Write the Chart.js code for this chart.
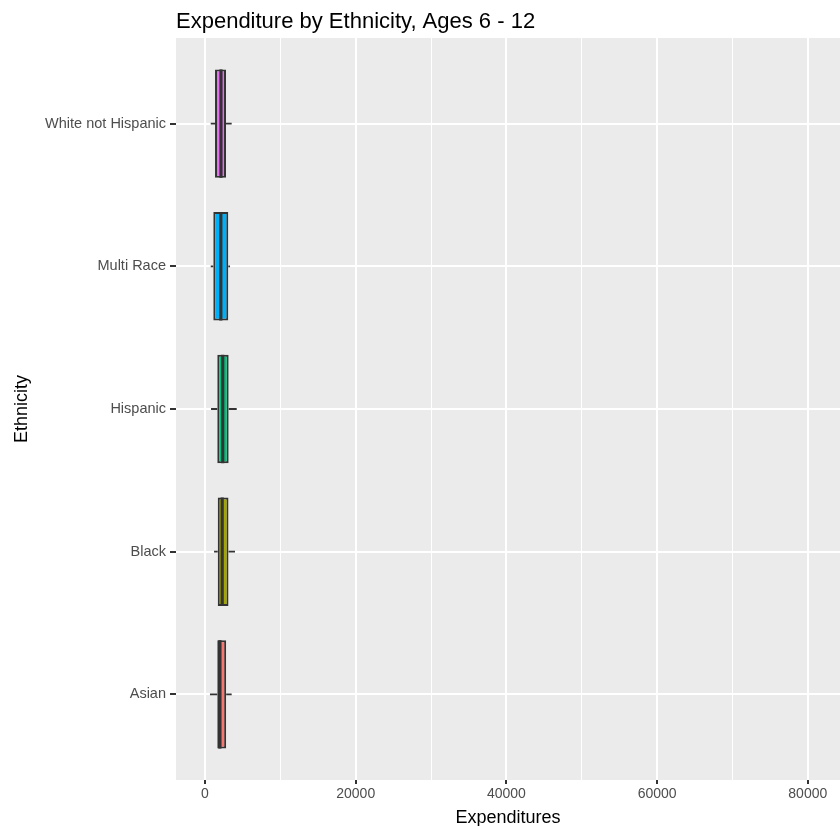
<!DOCTYPE html>
<html>
<head>
<meta charset="utf-8">
<title>Expenditure by Ethnicity, Ages 6 - 12</title>
<script src="https://cdn.jsdelivr.net/npm/chart.js@4.4.1/dist/chart.umd.min.js"></script>
<style>
  html, body { margin: 0; padding: 0; background: #fff; }
  #wrap { width: 840px; height: 826px; position: relative; }
</style>
</head>
<body>
<div id="wrap"><canvas id="boxChart" width="840" height="826"></canvas></div>
<script>
// Box plot values (bottom to top)
const categories = ['Asian', 'Black', 'Hispanic', 'Multi Race', 'White not Hispanic'];
const whiskerLow = [660, 1200, 800, 760, 760];
const lowerQuartile = [1630, 1690, 1630, 1100, 1330];
const medians = [1980, 2280, 2350, 2100, 2120];
const upperQuartile = [2810, 3120, 3140, 3090, 2790];
const whiskerHigh = [3540, 3980, 4210, 3320, 3540];
const boxColors = ['#F8766D', '#A3A500', '#00BF7D', '#00B0F6', '#E76BF3'];
const xTickValues = [0, 10000, 20000, 30000, 40000, 50000, 60000, 70000, 80000];

const lineDark = '#333333';
const fontFamily = 'Liberation Sans, Arial, sans-serif';

// grey panel behind the plot
const panelBackground = {
    id: 'panelBackground',
    beforeDraw(chart) {
        const { ctx, chartArea } = chart;
        ctx.save();
        ctx.fillStyle = '#EBEBEB';
        ctx.fillRect(chartArea.left, chartArea.top, chartArea.right - chartArea.left, chartArea.bottom - chartArea.top);
        ctx.restore();
    }
};

// whiskers and median lines on top of the floating bars
const boxExtras = {
    id: 'boxExtras',
    afterDatasetsDraw(chart) {
        const { ctx, scales } = chart;
        const meta = chart.getDatasetMeta(0);
        ctx.save();
        ctx.strokeStyle = lineDark;
        categories.forEach((cat, i) => {
            const bar = meta.data[i];
            const y = scales.y.getPixelForValue(i);
            const half = bar.height / 2;
            // whiskers
            ctx.lineWidth = 1.8;
            ctx.beginPath();
            ctx.moveTo(scales.x.getPixelForValue(whiskerLow[i]), y);
            ctx.lineTo(scales.x.getPixelForValue(lowerQuartile[i]), y);
            ctx.moveTo(scales.x.getPixelForValue(upperQuartile[i]), y);
            ctx.lineTo(scales.x.getPixelForValue(whiskerHigh[i]), y);
            ctx.stroke();
            // median
            const mx = scales.x.getPixelForValue(medians[i]);
            ctx.lineWidth = 3.2;
            ctx.beginPath();
            ctx.moveTo(mx, y - half);
            ctx.lineTo(mx, y + half);
            ctx.stroke();
        });
        ctx.restore();
    }
};

const ctx = document.getElementById('boxChart');
new Chart(ctx, {
    type: 'bar',
    data: {
        datasets: [{
            data: categories.map((c, i) => ({ x: [lowerQuartile[i], upperQuartile[i]], y: i })),
            backgroundColor: boxColors,
            borderColor: lineDark,
            borderWidth: 2,
            borderSkipped: false,
            barPercentage: 0.76,
            categoryPercentage: 1
        }]
    },
    options: {
        indexAxis: 'y',
        responsive: false,
        animation: false,
        layout: { padding: 0 },
        plugins: {
            legend: { display: false },
            tooltip: { enabled: false },
            title: {
                display: true,
                text: 'Expenditure by Ethnicity, Ages 6 - 12',
                align: 'start',
                fullSize: false,
                color: '#000',
                font: { family: fontFamily, size: 22, weight: 'normal', lineHeight: 1.2 },
                padding: { top: 9, bottom: 2.6 }
            }
        },
        scales: {
            x: {
                type: 'linear',
                min: -3849,
                max: 84273,
                afterBuildTicks(scale) {
                    scale.ticks = xTickValues.map(v => ({ value: v }));
                },
                afterFit(scale) {
                    scale.height = 46;
                },
                border: { display: false },
                grid: {
                    color: '#FFFFFF',
                    lineWidth: c => (c.tick && c.tick.value % 20000 === 0) ? 2 : 1,
                    tickColor: c => (c.tick && c.tick.value % 20000 === 0) ? lineDark : 'rgba(0,0,0,0)',
                    tickLength: 4,
                    tickWidth: 2
                },
                ticks: {
                    autoSkip: false,
                    maxRotation: 0,
                    padding: 2,
                    color: '#4D4D4D',
                    font: { family: fontFamily, size: 14 },
                    callback: v => (v % 20000 === 0 ? String(v) : '')
                },
                title: {
                    display: true,
                    text: 'Expenditures',
                    color: '#000',
                    font: { family: fontFamily, size: 18 },
                    padding: { top: 0, bottom: -3 }
                }
            },
            y: {
                type: 'linear',
                min: -0.6,
                max: 4.6,
                offset: false,
                afterBuildTicks(scale) {
                    scale.ticks = categories.map((c, i) => ({ value: i }));
                },
                afterFit(scale) {
                    scale.width = 176;
                },
                border: { display: false },
                grid: {
                    offset: false,
                    color: '#FFFFFF',
                    lineWidth: 2,
                    tickColor: lineDark,
                    tickLength: 6,
                    tickWidth: 2
                },
                ticks: {
                    autoSkip: false,
                    padding: 4,
                    color: '#4D4D4D',
                    font: { family: fontFamily, size: 14.5 },
                    callback: v => categories[v] || ''
                },
                title: {
                    display: true,
                    text: 'Ethnicity',
                    color: '#000',
                    font: { family: fontFamily, size: 18 },
                    padding: { top: 11, bottom: 0 }
                }
            }
        }
    },
    plugins: [panelBackground, boxExtras]
});
</script>
</body>
</html>
